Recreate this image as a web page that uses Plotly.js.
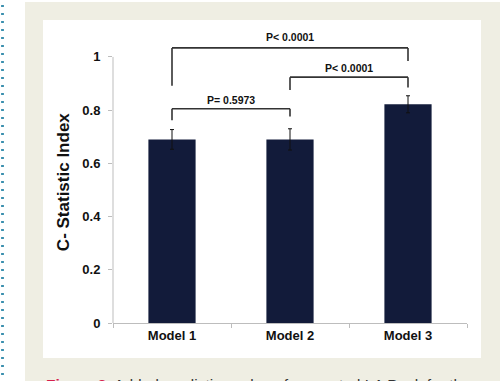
<!DOCTYPE html>
<html>
<head>
<meta charset="utf-8">
<script src="https://cdn.plot.ly/plotly-3.0.1.min.js"></script>
<style>
  html, body { margin:0; padding:0; background:#ffffff; }
  #wrap { position:relative; width:500px; height:381px; overflow:hidden; }
  #dots { position:absolute; left:1px; top:2px; width:3px; height:379px;
          background-image: radial-gradient(circle, #3a8fae 1.1px, rgba(0,0,0,0) 1.3px);
          background-size:3px 8px; background-repeat:repeat-y; }
  #beige { position:absolute; left:25px; top:2px; width:475px; height:379px; background:#efeee3; }
  #panel { position:absolute; left:43px; top:20px; width:438px; height:338px; background:#ffffff; }
  #chart { position:absolute; left:0; top:0; width:500px; height:381px; }
</style>
</head>
<body>
<div id="wrap">
  <div id="dots"></div>
  <div id="beige"></div>
  <div id="panel"></div>
  <div id="chart"></div>
</div>
<script>
// ---- data ----
const categories = ['Model 1', 'Model 2', 'Model 3'];
const cStatistic = [0.69, 0.69, 0.822];
const errorHalf = [0.037, 0.040, 0.032];
const yTickVals = [0, 0.2, 0.4, 0.6, 0.8, 1];
const yTickText = ['0', '0.2', '0.4', '0.6', '0.8', '1'];
const comparisons = [
  { from: 0, to: 1, label: 'P= 0.5973' },
  { from: 1, to: 2, label: 'P< 0.0001' },
  { from: 0, to: 2, label: 'P< 0.0001' }
];
const yTitle = 'C- Statistic Index';
const captionLead = 'Figure 3';
const captionText = 'Added predictive value of computed LA Peak for the';

// ---- bracket geometry (style) ----
const bracketStyle = [
  { top: 0.805, leftDrop: 0.762, rightDrop: 0.776, textY: 0.840 },
  { top: 0.924, leftDrop: 0.876, rightDrop: 0.885, textY: 0.957 },
  { top: 1.034, leftDrop: 0.892, rightDrop: 0.985, textY: 1.075 }
];

const lineCol = '#333333';
const shapes = [];
const annotations = [];
comparisons.forEach((c, i) => {
  const s = bracketStyle[i];
  const ln = { color: lineCol, width: 1.6 };
  shapes.push({ type: 'line', xref: 'x', yref: 'y', x0: c.from, x1: c.from, y0: s.leftDrop, y1: s.top, line: ln });
  shapes.push({ type: 'line', xref: 'x', yref: 'y', x0: c.from, x1: c.to, y0: s.top, y1: s.top, line: ln });
  shapes.push({ type: 'line', xref: 'x', yref: 'y', x0: c.to, x1: c.to, y0: s.top, y1: s.rightDrop, line: ln });
  annotations.push({
    xref: 'x', yref: 'y', x: (c.from + c.to) / 2, y: s.textY, text: '<b>' + c.label + '</b>',
    showarrow: false, font: { family: 'Liberation Sans, Arial, sans-serif', size: 10.5, color: '#111111' }
  });
});
// y axis line only over 0..1
shapes.push({ type: 'line', xref: 'paper', yref: 'y', x0: 0, x1: 0, y0: 0, y1: 1, line: { color: '#bdbdbd', width: 1 } });

annotations.push({
  xref: 'paper', yref: 'paper', x: -0.141, y: 0.473, text: '<b>' + yTitle + '</b>', textangle: -90,
  showarrow: false, xanchor: 'center', yanchor: 'middle',
  font: { family: 'Liberation Sans, Arial, sans-serif', size: 17, color: '#111111' }
});
annotations.push({
  xref: 'paper', yref: 'paper', x: -0.195, y: -0.172, xanchor: 'left', yanchor: 'top',
  text: '<b><span style="color:#d6204d">' + captionLead + '</span></b>  ' + captionText,
  showarrow: false, align: 'left',
  font: { family: 'Liberation Sans, Arial, sans-serif', size: 15.5, color: '#333333' }
});

const trace = {
  type: 'bar',
  x: categories,
  y: cStatistic,
  width: 0.4,
  marker: { color: '#121b3a', line: { width: 0 } },
  error_y: { type: 'data', array: errorHalf, visible: true, color: '#111111', thickness: 1, width: 2 },
  hoverinfo: 'none'
};

const layout = {
  width: 500, height: 381,
  margin: { l: 113, r: 33, t: 25, b: 58 },
  paper_bgcolor: 'rgba(0,0,0,0)',
  plot_bgcolor: 'rgba(0,0,0,0)',
  showlegend: false,
  bargap: 0.6,
  xaxis: {
    type: 'category', range: [-0.5, 2.5],
    showline: true, linecolor: '#bdbdbd', linewidth: 1,
    ticks: 'outside', tickson: 'boundaries', ticklen: 4, tickcolor: '#bdbdbd',
    showgrid: false, zeroline: false, fixedrange: true,
    tickfont: { family: 'Liberation Sans, Arial, sans-serif', size: 13, color: '#111111', weight: 'bold' }
  },
  yaxis: {
    range: [0, 1.12],
    tickvals: yTickVals, ticktext: yTickText,
    ticks: 'outside', ticklen: 4, tickcolor: '#bdbdbd',
    showline: false, showgrid: false, zeroline: false, fixedrange: true,
    ticklabelstandoff: 5,
    tickfont: { family: 'Liberation Sans, Arial, sans-serif', size: 13, color: '#111111', weight: 'bold' }
  },
  shapes: shapes,
  annotations: annotations
};

Plotly.newPlot('chart', [trace], layout, { displayModeBar: false, staticPlot: true });
</script>
</body>
</html>
